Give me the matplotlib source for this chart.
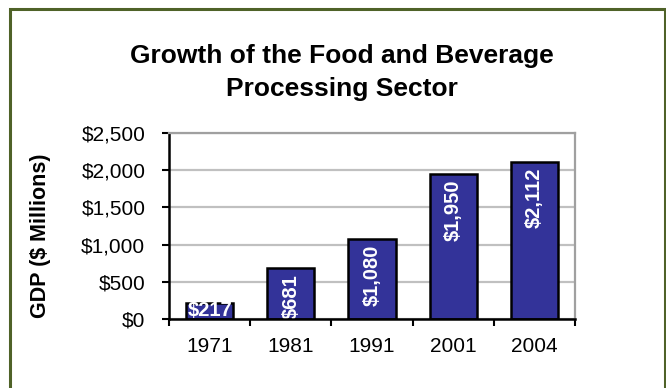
import matplotlib
matplotlib.use("Agg")
import matplotlib.pyplot as plt
from matplotlib.patches import Rectangle
from matplotlib.ticker import FuncFormatter, FixedLocator

plt.rcParams['font.family'] = ['Liberation Sans', 'DejaVu Sans']

# GDP of the food and beverage processing sector, $ millions
years = ["1971", "1981", "1991", "2001", "2004"]
gdp = [217, 681, 1080, 1950, 2112]
bar_labels = ["$217", "$681", "$1,080", "$1,950", "$2,112"]
y_ticks = [0, 500, 1000, 1500, 2000, 2500]

W, H = 666, 388
fig = plt.figure(figsize=(W / 100, H / 100), dpi=100)
fig.patch.set_facecolor("white")

# chart frame
fig.patches.append(Rectangle((9.5 / W, -0.1), (664.5 - 9.5) / W, 1.1 - 9.5 / H,
                             transform=fig.transFigure, fill=False,
                             edgecolor="#4F6228", linewidth=2.2, zorder=0))

ax = fig.add_axes([169 / W, 69 / H, 406 / W, 186 / H])
x = list(range(len(years)))
ax.bar(x, gdp, width=0.58, color="#333399", edgecolor="black",
       linewidth=1.8, zorder=3)

ax.set_xlim(-0.5, len(years) - 0.5)
ax.set_ylim(0, 2500)

# value labels
for i, (v, lab) in enumerate(zip(gdp, bar_labels)):
    if v < 400:
        ax.text(i, v / 2, lab, ha="center", va="center", color="white",
                fontsize=14.5, fontweight="bold", zorder=4)
    else:
        ax.annotate(lab, xy=(i, v), xytext=(0, -4), textcoords="offset points",
                    rotation=90, ha="center", va="top", color="white",
                    fontsize=14.5, fontweight="bold", zorder=4)

# axes styling
ax.yaxis.set_major_locator(FixedLocator(y_ticks))
ax.yaxis.set_major_formatter(FuncFormatter(lambda v, p: f"${v:,.0f}"))
ax.grid(axis="y", color="#C0C0C0", linewidth=1.6, zorder=0)
ax.set_axisbelow(True)

ax.spines["left"].set_color("black")
ax.spines["left"].set_linewidth(1.8)
ax.spines["bottom"].set_color("black")
ax.spines["bottom"].set_linewidth(1.8)
ax.spines["bottom"].set_zorder(5)
ax.spines["right"].set_color("#A0A0A0")
ax.spines["right"].set_linewidth(1.6)
ax.spines["top"].set_color("#A0A0A0")
ax.spines["top"].set_linewidth(1.6)

ax.tick_params(axis="y", direction="out", length=5, width=1.5,
               labelsize=15, pad=12)
# category boundary ticks plus centered year labels
ax.set_xticks([i - 0.5 for i in range(len(years) + 1)])
ax.set_xticklabels([])
ax.set_xticks(x, minor=True)
ax.set_xticklabels(years, minor=True)
ax.tick_params(axis="x", which="major", direction="out", length=5, width=1.5)
ax.tick_params(axis="x", which="minor", length=0, labelsize=15, pad=13)

fig.text(40.5 / W, 1 - 236 / H, "GDP ($ Millions)", rotation=90, ha="center",
         va="center", fontsize=15.5, fontweight="bold")

fig.text(342 / W, 1 - 63 / H, "Growth of the Food and Beverage", ha="center",
         va="baseline", fontsize=19, fontweight="bold")
fig.text(342 / W, 1 - 96 / H, "Processing Sector", ha="center",
         va="baseline", fontsize=19, fontweight="bold")

fig.savefig("out.png", dpi=100, facecolor="white")
